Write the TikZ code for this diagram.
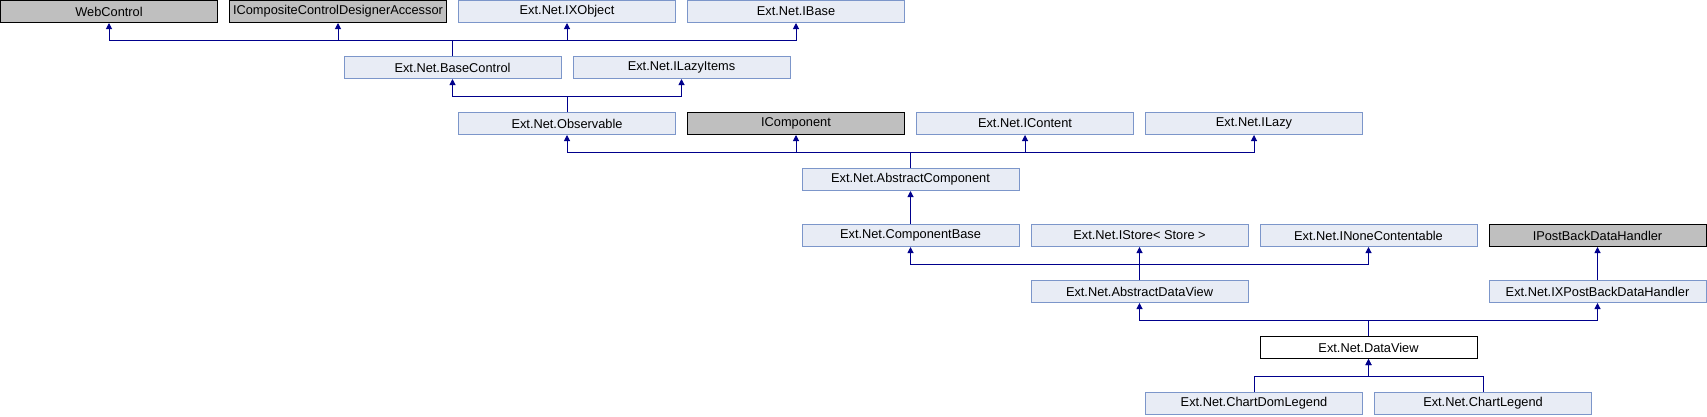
\documentclass[tikz,border=0pt]{standalone}
\usepackage{fontspec}
\setmainfont{Liberation Sans}
\usetikzlibrary{arrows.meta}
\definecolor{bfill}{RGB}{232,236,245}
\definecolor{bline}{RGB}{124,150,202}
\definecolor{gfill}{RGB}{191,191,191}
\definecolor{lnk}{RGB}{0,0,140}
\begin{document}
\begin{tikzpicture}[x=1pt,y=-1pt,
 cls/.style={rectangle,minimum width=217pt,minimum height=22pt,inner sep=0pt,line width=1pt,font=\fontsize{12.8}{14}\selectfont},
 doc/.style={cls,draw=bline,fill=bfill},
 ext/.style={cls,draw=black,fill=gfill},
 self/.style={cls,draw=black,fill=white},
 inh/.style={draw=lnk,line width=1pt,-{Triangle[width=6pt,length=6pt]}},
]
\useasboundingbox (0,0) rectangle (1707,416);
% row 0
\node[ext] (wc)   at (109,11.5)   {WebControl};
\node[ext] (icc)  at (338,11.5)   {ICompositeControlDesignerAccessor};
\node[doc] (ixo)  at (567,11.5)   {Ext.Net.IXObject};
\node[doc] (ib)   at (796,11.5)   {Ext.Net.IBase};
% row 1
\node[doc] (bc)   at (452.5,67.5) {Ext.Net.BaseControl};
\node[doc] (ili)  at (681.5,67.5) {Ext.Net.ILazyItems};
% row 2
\node[doc] (obs)  at (567,123.5)  {Ext.Net.Observable};
\node[ext] (icmp) at (796,123.5)  {IComponent};
\node[doc] (icon) at (1025,123.5) {Ext.Net.IContent};
\node[doc] (ilz)  at (1254,123.5) {Ext.Net.ILazy};
% row 3
\node[doc] (ac)   at (910.5,179.5) {Ext.Net.AbstractComponent};
% row 4
\node[doc] (cb)   at (910.5,235.5) {Ext.Net.ComponentBase};
\node[doc] (ist)  at (1139.5,235.5) {Ext.Net.IStore< Store >};
\node[doc] (inc)  at (1368.5,235.5) {Ext.Net.INoneContentable};
\node[ext] (ipb)  at (1597.5,235.5) {IPostBackDataHandler};
% row 5
\node[doc] (adv)  at (1139.5,291.5) {Ext.Net.AbstractDataView};
\node[doc] (ixpb) at (1597.5,291.5) {Ext.Net.IXPostBackDataHandler};
% row 6
\node[self] (dv)  at (1368.5,347.5) {Ext.Net.DataView};
% row 7
\node[doc] (cdl)  at (1254,403.5) {Ext.Net.ChartDomLegend};
\node[doc] (cl)   at (1483,403.5) {Ext.Net.ChartLegend};
% bar levels
\coordinate (b1) at (0,40);
\coordinate (b2) at (0,96);
\coordinate (b3) at (0,152);
\coordinate (b5) at (0,264);
\coordinate (b6) at (0,320);
\coordinate (b7) at (0,376);
% BaseControl
\foreach \p in {wc,icc,ixo,ib}
  \draw[inh] (bc.north) -- (bc.north |- b1) -| (\p.south);
% Observable
\foreach \p in {bc,ili}
  \draw[inh] (obs.north) -- (obs.north |- b2) -| (\p.south);
% AbstractComponent
\foreach \p in {obs,icmp,icon,ilz}
  \draw[inh] (ac.north) -- (ac.north |- b3) -| (\p.south);
% ComponentBase
\draw[inh] (cb.north) -- (ac.south);
% AbstractDataView
\foreach \p in {cb,ist,inc}
  \draw[inh] (adv.north) -- (adv.north |- b5) -| (\p.south);
% IXPostBackDataHandler
\draw[inh] (ixpb.north) -- (ipb.south);
% DataView
\foreach \p in {adv,ixpb}
  \draw[inh] (dv.north) -- (dv.north |- b6) -| (\p.south);
% Chart legends
\draw[inh] (cdl.north) -- (cdl.north |- b7) -| (dv.south);
\draw[inh] (cl.north) -- (cl.north |- b7) -| (dv.south);
\end{tikzpicture}
\end{document}
